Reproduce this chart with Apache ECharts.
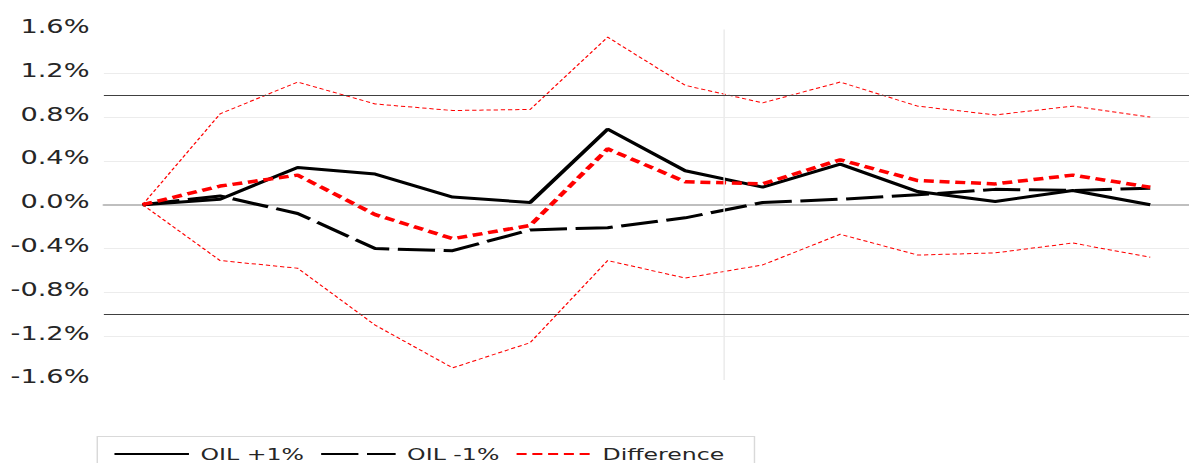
<!DOCTYPE html>
<html>
<head>
<meta charset="utf-8">
<script src="https://cdn.jsdelivr.net/npm/echarts@6/dist/echarts.min.js"></script>
<style>
  html, body { margin: 0; padding: 0; background: #fff; overflow: hidden; }
  #wrap { width: 1189px; height: 463px; overflow: hidden; }
  #chart { width: 830px; height: 463px; transform: scaleX(1.432530); transform-origin: 0 0; }
</style>
</head>
<body>
<div id="wrap"><div id="chart"></div></div>
<script>
// ---- data (values in %) ----
const categories = ['0', '1', '2', '3', '4', '5', '6', '7', '8', '9', '10', '11', '12', '13'];
const seriesNames = ['OIL +1%', 'OIL -1%', 'Difference'];
const oilPlus    = [0, 0.05, 0.34, 0.28, 0.07, 0.02, 0.69, 0.31, 0.16, 0.37, 0.12, 0.03, 0.13, 0.00];
const oilMinus   = [0, 0.08, -0.08, -0.40, -0.42, -0.23, -0.21, -0.12, 0.02, 0.05, 0.09, 0.14, 0.13, 0.15];
const difference = [0, 0.17, 0.27, -0.09, -0.31, -0.19, 0.51, 0.21, 0.19, 0.41, 0.22, 0.19, 0.27, 0.16];
const diffUpper  = [0, 0.83, 1.12, 0.92, 0.86, 0.87, 1.53, 1.09, 0.93, 1.12, 0.90, 0.82, 0.90, 0.80];
const diffLower  = [0, -0.51, -0.58, -1.10, -1.49, -1.26, -0.51, -0.67, -0.55, -0.27, -0.46, -0.44, -0.35, -0.48];
const yMin = -1.6, yMax = 1.6, yStep = 0.4;
const refLevels = [1.0, -1.0];
const dividerAt = 8; // category boundary with the light vertical rule

const chart = echarts.init(document.getElementById('chart'), null, { renderer: 'svg' });

const textColor = '#262626';
chart.setOption({
  animation: false,
  backgroundColor: '#ffffff',
  grid: { left: 72.5, right: -5.8, top: 29.5, bottom: 83.1, containLabel: false },
  legend: {
    data: seriesNames,
    left: 67.9, top: 436.5,
    orient: 'horizontal',
    itemWidth: 52, itemHeight: 14, itemGap: 11,
    padding: [9, 21, 10, 11],
    borderColor: '#d9d9d9', borderWidth: 1,
    itemStyle: { opacity: 0 },
    textStyle: { fontFamily: 'DejaVu Sans', fontSize: 16.5, lineHeight: 15, color: textColor, padding: [0, 0, 0, 3] },
    selectedMode: false
  },
  xAxis: [{
    type: 'category', data: categories, boundaryGap: true,
    axisLine: { show: true, onZero: true, lineStyle: { color: '#bfbfbf', width: 2 } },
    axisTick: { show: false }, axisLabel: { show: false }, splitLine: { show: false }
  }, {
    type: 'value', min: 0, max: categories.length, show: false
  }],
  yAxis: {
    type: 'value', min: yMin, max: yMax, interval: yStep,
    axisLine: { show: false }, axisTick: { show: false },
    axisLabel: {
      margin: 10,
      formatter: v => '{t|' + (Math.round(v * 10) / 10).toFixed(1) + '%}',
      rich: { t: { fontFamily: 'DejaVu Sans', fontSize: 19, color: textColor, padding: [0, 0, 6, 0] } }
    },
    splitLine: { show: true, showMinLine: false, showMaxLine: false, lineStyle: { color: '#ececec', width: 1 } }
  },
  series: [
    {
      name: 'divider', type: 'line', xAxisIndex: 1, data: [[dividerAt, 0]],
      showSymbol: false, symbol: 'none', lineStyle: { opacity: 0 }, silent: true, z: 1,
      markLine: {
        silent: true, symbol: 'none', label: { show: false },
        lineStyle: { color: '#ebebeb', width: 1, type: 'solid' },
        data: [{ xAxis: dividerAt }]
      }
    },
    {
      name: 'Upper', type: 'line', data: diffUpper, symbol: 'none', z: 2,
      lineStyle: { color: '#ff0000', width: 1, type: [3, 2] },
      markLine: {
        silent: true, symbol: 'none', label: { show: false },
        lineStyle: { color: '#404040', width: 1, type: 'solid' },
        data: refLevels.map(v => ({ yAxis: v }))
      }
    },
    {
      name: 'Lower', type: 'line', data: diffLower, symbol: 'none', z: 2,
      lineStyle: { color: '#ff0000', width: 1, type: [3, 2] }
    },
    {
      name: 'OIL -1%', type: 'line', data: oilMinus, symbol: 'none', z: 3,
      itemStyle: { color: '#000000' },
      lineStyle: { color: '#000000', width: 3, type: [26, 6] }
    },
    {
      name: 'OIL +1%', type: 'line', data: oilPlus, symbol: 'none', z: 3,
      itemStyle: { color: '#000000' },
      lineStyle: { color: '#000000', width: 3, type: 'solid' }
    },
    {
      name: 'Difference', type: 'line', data: difference, symbol: 'none', z: 4,
      itemStyle: { color: '#ff0000' },
      lineStyle: { color: '#ff0000', width: 3.5, type: [7, 4] }
    }
  ]
});
</script>
</body>
</html>
